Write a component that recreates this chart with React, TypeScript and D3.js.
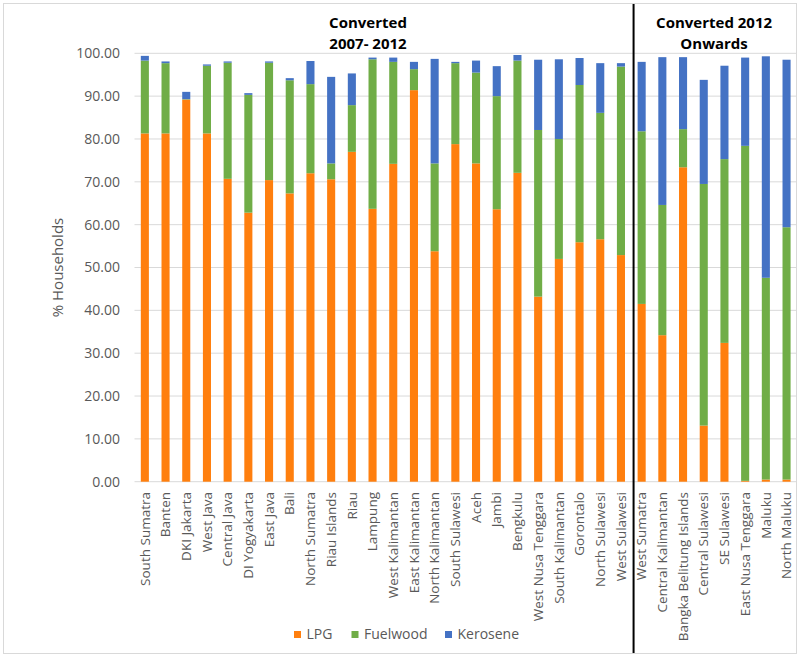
import React from "react";
import * as d3 from "d3";

const provinces = [
  "South Sumatra", "Banten", "DKI Jakarta", "West Java", "Central Java", "DI Yogyakarta",
  "East Java", "Bali", "North Sumatra", "Riau Islands", "Riau", "Lampung",
  "West Kalimantan", "East Kalimantan", "North Kalimantan", "South Sulawesi", "Aceh", "Jambi",
  "Bengkulu", "West Nusa Tenggara", "South Kalimantan", "Gorontalo", "North Sulawesi", "West Sulawesi",
  "West Sumatra", "Central Kalimantan", "Bangka Belitung Islands", "Central Sulawesi", "SE Sulawesi",
  "East Nusa Tenggara", "Maluku", "North Maluku",
];

const lpg = [
  81.3, 81.3, 89.2, 81.3, 70.7, 62.8, 70.4, 67.3, 72.0, 70.6, 77.0, 63.7,
  74.2, 91.4, 53.8, 78.8, 74.3, 63.6, 72.1, 43.2, 52.0, 55.9, 56.6, 52.9,
  41.5, 34.2, 73.4, 13.1, 32.4, 0.2, 0.5, 0.5,
];
const fuelwood = [
  17.0, 16.4, 0.1, 15.8, 27.1, 27.5, 27.4, 26.4, 20.8, 3.7, 10.9, 34.9,
  23.8, 4.9, 20.5, 18.9, 21.2, 26.4, 26.2, 38.9, 28.0, 36.7, 29.5, 44.0,
  40.3, 30.4, 8.9, 56.4, 42.9, 78.2, 47.1, 58.9,
];
const kerosene = [
  1.1, 0.4, 1.7, 0.3, 0.3, 0.4, 0.3, 0.5, 5.4, 20.2, 7.4, 0.4,
  1.0, 1.7, 24.4, 0.3, 2.8, 7.0, 1.3, 16.4, 18.6, 6.3, 11.6, 0.8,
  16.2, 34.5, 16.8, 24.3, 21.8, 20.6, 51.7, 39.1,
];

const seriesNames = ["LPG", "Fuelwood", "Kerosene"];
const seriesColors = ["#FF7F0E", "#70AD47", "#4472C4"];
const yTicks = [0, 10, 20, 30, 40, 50, 60, 70, 80, 90, 100];
const groupTitles = [
  { lines: ["Converted", "2007- 2012"], first: "South Sumatra", last: "West Sulawesi" },
  { lines: ["Converted 2012", "Onwards"], first: "West Sumatra", last: "North Maluku" },
];

const W = 800;
const H = 657;
const FONT = "'Open Sans', 'Noto Sans', sans-serif";

export default function App() {
  const x = d3
    .scaleBand<string>()
    .domain(provinces)
    .range([134.5, 796.9])
    .paddingInner(0.61)
    .paddingOuter(0.305);
  const y = d3.scaleLinear().domain([0, 100]).range([481.7, 53.3]);

  const rows = provinces.map((p, i) => ({ name: p, LPG: lpg[i], Fuelwood: fuelwood[i], Kerosene: kerosene[i] }));
  const stacked = d3.stack<any>().keys(seriesNames)(rows);

  const bw = x.bandwidth();
  const dividerX = (x("West Sumatra") as number) - bw / 2;

  const legendItems = [
    { name: "LPG", x: 294 },
    { name: "Fuelwood", x: 351.5 },
    { name: "Kerosene", x: 445 },
  ];

  return (
    <svg
      width={W}
      height={H}
      style={{ position: "absolute", left: 0, top: 0, background: "#fff" }}
      fontFamily={FONT}
    >
      <rect x={3.5} y={3.5} width={W - 7} height={H - 7} fill="#fff" stroke="#D9D9D9" strokeWidth={1} />

      {/* gridlines */}
      {yTicks.map((t) => (
        <line key={t} x1={134.5} x2={796.9} y1={y(t)} y2={y(t)} stroke="#D9D9D9" strokeWidth={1} />
      ))}

      {/* y tick labels */}
      {yTicks.map((t) => (
        <text key={"l" + t} x={120} y={y(t)} dy="0.35em" textAnchor="end" fontSize={14} fill="#595959">
          {t.toFixed(2)}
        </text>
      ))}

      <text
        transform={`translate(63,${(y(0) + y(100)) / 2 + 0}) rotate(-90)`}
        textAnchor="middle"
        fontSize={15}
        fill="#595959"
      >
        % Households
      </text>

      {/* bars */}
      {stacked.map((s, si) => (
        <g key={s.key} fill={seriesColors[si]}>
          {s.map((d, i) => (
            <rect
              key={i}
              x={x(provinces[i])}
              y={y(d[1])}
              width={bw}
              height={Math.max(0, y(d[0]) - y(d[1]))}
            />
          ))}
        </g>
      ))}

      {/* x labels */}
      {provinces.map((p) => (
        <text
          key={p}
          transform={`translate(${(x(p) as number) + bw / 2},492) rotate(-90)`}
          dy="0.35em"
          textAnchor="end"
          fontSize={13.5}
          fill="#595959"
        >
          {p}
        </text>
      ))}

      {/* divider */}
      <line x1={dividerX} x2={dividerX} y1={4} y2={H - 4} stroke="#000" strokeWidth={2} />

      {/* group titles */}
      {groupTitles.map((g) => {
        const cx =
          g.first === "South Sumatra"
            ? 368
            : ((x(g.first) as number) + (x(g.last) as number) + bw) / 2;
        return (
          <text key={g.first} x={cx} textAnchor="middle" fontSize={15} fontWeight="bold" fill="#000">
            <tspan x={cx} y={27.5}>{g.lines[0]}</tspan>
            <tspan x={cx} y={48.5}>{g.lines[1]}</tspan>
          </text>
        );
      })}

      {/* legend */}
      {legendItems.map((l, i) => (
        <g key={l.name}>
          <rect x={l.x} y={631} width={7} height={7} fill={seriesColors[i]} />
          <text x={l.x + 12.5} y={634.5} dy="0.35em" fontSize={14} fill="#595959">
            {l.name}
          </text>
        </g>
      ))}
    </svg>
  );
}
